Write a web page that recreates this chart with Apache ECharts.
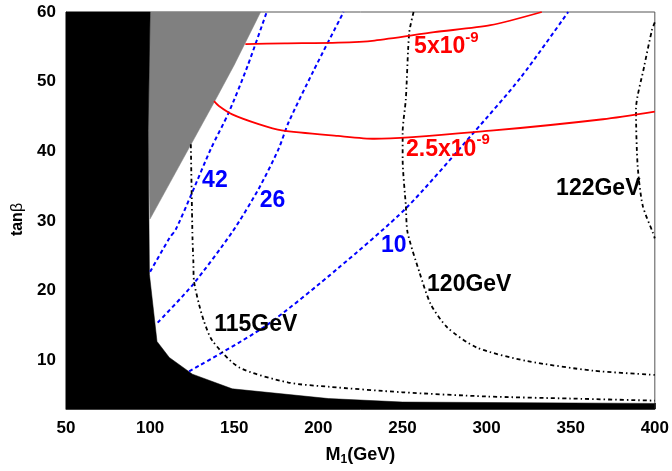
<!DOCTYPE html>
<html>
<head>
<meta charset="utf-8">
<script src="https://cdn.jsdelivr.net/npm/echarts@6/dist/echarts.min.js"></script>
<style>html,body{margin:0;padding:0;background:#fff}#c{width:672px;height:471px}</style>
</head>
<body>
<div id="c"></div>
<script>
// axis ticks
const xTicks = [50, 100, 150, 200, 250, 300, 350, 400];
const yTicks = [10, 20, 30, 40, 50, 60];

// excluded (black) region boundary
const blackX = [50, 100, 98.8, 99.6, 104.1, 111.4, 125.2, 148.8, 206, 250, 400, 400, 50];
const blackY = [60, 60, 43, 22.3, 12.7, 10.4, 8.0, 5.9, 4.5, 4.0, 3.8, 3, 3];

// gray region boundary
const grayX = [100, 165.7, 150, 138, 100, 98.8];
const grayY = [60, 60, 52.4, 47, 30.3, 43];

// blue dashed contours (42, 26, 10)
const blue42 = [[100, 22.7], [111.4, 27.5], [115.3, 28.8], [125.2, 34.2], [136, 40.3], [146.8, 45.6], [158, 52.3], [169.3, 60]];
const blue26 = [[104.5, 15.4], [125.2, 20.8], [148.8, 28.4], [164.5, 34.6], [176.3, 40.3], [182.2, 44.1], [197, 51.5], [215, 60]];
const blue10 = [[123.2, 8.4], [168.5, 14.9], [211.7, 23.2], [252, 31.8], [292.4, 42.7], [320, 50.5], [348.5, 60]];

// black dash-dot Higgs mass contours
const h115 = [[124.2, 41], [125.2, 27.5], [125.7, 24.2], [126.1, 21.3], [129.1, 18.0], [132, 15.6], [137, 12.8], [152.7, 9.0], [182.2, 6.8], [206, 6.2], [250, 5.4], [300, 4.8], [350, 4.5], [400, 4.2]];
const h120 = [[256.6, 60], [254, 57], [252, 47.5], [250.1, 42.7], [250.1, 38.9], [252, 32.2], [253, 28.4], [260, 22.7], [266.9, 18.0], [276.7, 14.7], [294.4, 11.8], [323.9, 9.9], [363.3, 8.5], [400, 7.9]];
const h122 = [[400, 58.5], [398.3, 57.4], [393.7, 52.2], [388.8, 46.0], [389.8, 37.9], [392.8, 32.2], [398.7, 28.4], [400, 27.5]];

// red solid contours
const red5 = [[156.6, 55.4], [180, 55.5], [211.7, 55.6], [233.4, 55.9], [268.8, 57.1], [302.3, 58.1], [332.8, 60]];
const red25 = [[138, 47.2], [140.9, 46.5], [148.8, 45.3], [164.5, 43.9], [178.3, 43.0], [211.7, 42.2], [233.4, 41.8], [304.2, 43.0], [369.2, 44.6], [400, 45.7]];

// annotation texts
const blueLabels = ['42', '26', '10'];
const massLabels = ['115GeV', '120GeV', '122GeV'];
const redLabels = ['5x10{sup|-9}', '2.5x10{sup|-9}'];

const chart = echarts.init(document.getElementById('c'), null, {renderer: 'canvas'});
const FONT = 'Liberation Sans, Arial, Helvetica, sans-serif';

function polySeries(xs, ys, color) {
  return {
    type: 'custom',
    silent: true,
    data: [[xs[0], ys[0]]],
    z: 1,
    renderItem: function (params, api) {
      const pts = xs.map((x, i) => api.coord([x, ys[i]]));
      return {type: 'polygon', shape: {points: pts}, style: {fill: color, stroke: color, lineWidth: 0.5}};
    }
  };
}
function lineSeries(data, color, type, width) {
  return {
    type: 'line', data: data, showSymbol: false, silent: true, z: 3, smooth: 0.25,
    lineStyle: {color: color, type: type, width: width}
  };
}
function labelSeries(items, color, rich) {
  return {
    type: 'scatter', symbolSize: 0, silent: true, z: 5,
    itemStyle: {opacity: 1},
    data: items.map(it => ({value: it.pos, name: it.text})),
    label: {
      show: true, position: 'inside', formatter: p => p.name, opacity: 1,
      color: color, fontFamily: FONT, fontWeight: 'bold', fontSize: 23,
      rich: rich || {}
    },
    emphasis: {disabled: true}
  };
}

const option = {
  animation: false,
  backgroundColor: '#fff',
  grid: {left: 66, right: 14, top: 12, bottom: 59, show: true, borderColor: '#555', borderWidth: 1},
  xAxis: {
    type: 'value', min: xTicks[0], max: xTicks[xTicks.length - 1], interval: 50,
    axisLine: {show: true, onZero: false, lineStyle: {color: '#555'}},
    axisTick: {show: true, inside: true, length: 6, lineStyle: {color: '#333'}},
    splitLine: {show: false},
    axisLabel: {color: '#000', fontFamily: FONT, fontWeight: 'bold', fontSize: 17, margin: 11, showMaxLabel: true, showMinLabel: true},
    name: 'M{sub|1}(GeV)', nameLocation: 'middle', nameGap: 35,
    nameTextStyle: {color: '#000', fontFamily: FONT, fontWeight: 'bold', fontSize: 18,
      rich: {sub: {fontSize: 12, fontWeight: 'bold', fontFamily: FONT, color: '#000', padding: [10, 0, 0, 0]}}}
  },
  yAxis: {
    type: 'value', min: 3, max: 60,
    axisLine: {show: true, onZero: false, lineStyle: {color: '#555'}},
    axisTick: {show: true, inside: true, length: 6, customValues: yTicks, lineStyle: {color: '#333'}},
    splitLine: {show: false},
    axisLabel: {color: '#000', fontFamily: FONT, fontWeight: 'bold', fontSize: 17, margin: 10, customValues: yTicks},
    name: 'tan{b|β}', nameLocation: 'middle', nameGap: 40, nameRotate: 90,
    nameTextStyle: {color: '#000', fontFamily: FONT, fontWeight: 'bold', fontSize: 16, padding: [0, 18, 0, 0],
      rich: {b: {fontSize: 16, fontWeight: 'normal', fontFamily: FONT, color: '#000'}}}
  },
  series: [
    polySeries(grayX, grayY, '#808080'),
    polySeries(blackX, blackY, '#000000'),
    lineSeries(blue42, '#0000ff', [4, 3], 2),
    lineSeries(blue26, '#0000ff', [4, 3], 2),
    lineSeries(blue10, '#0000ff', [4, 3], 2),
    lineSeries(h115, '#000000', [4, 3, 1.5, 3], 1.8),
    lineSeries(h120, '#000000', [4, 3, 1.5, 3], 1.8),
    lineSeries(h122, '#000000', [4, 3, 1.5, 3], 1.8),
    lineSeries(red5, '#ff0000', 'solid', 1.8),
    lineSeries(red25, '#ff0000', 'solid', 1.8),
    labelSeries([
      {text: blueLabels[0], pos: [138.5, 35.8]},
      {text: blueLabels[1], pos: [172.8, 32.9]},
      {text: blueLabels[2], pos: [244.8, 26.4]}
    ], '#0000ff'),
    labelSeries([
      {text: massLabels[0], pos: [162.8, 15.1]},
      {text: massLabels[1], pos: [289.7, 20.9]},
      {text: massLabels[2], pos: [366.4, 34.6]}
    ], '#000000'),
    labelSeries([
      {text: redLabels[0], pos: [276.1, 55.0]},
      {text: redLabels[1], pos: [277.0, 40.3]}
    ], '#ff0000', {sup: {fontSize: 15, fontWeight: 'bold', fontFamily: FONT, color: '#ff0000', padding: [0, 0, 18, 0]}})
  ]
};
chart.setOption(option);
</script>
</body>
</html>
